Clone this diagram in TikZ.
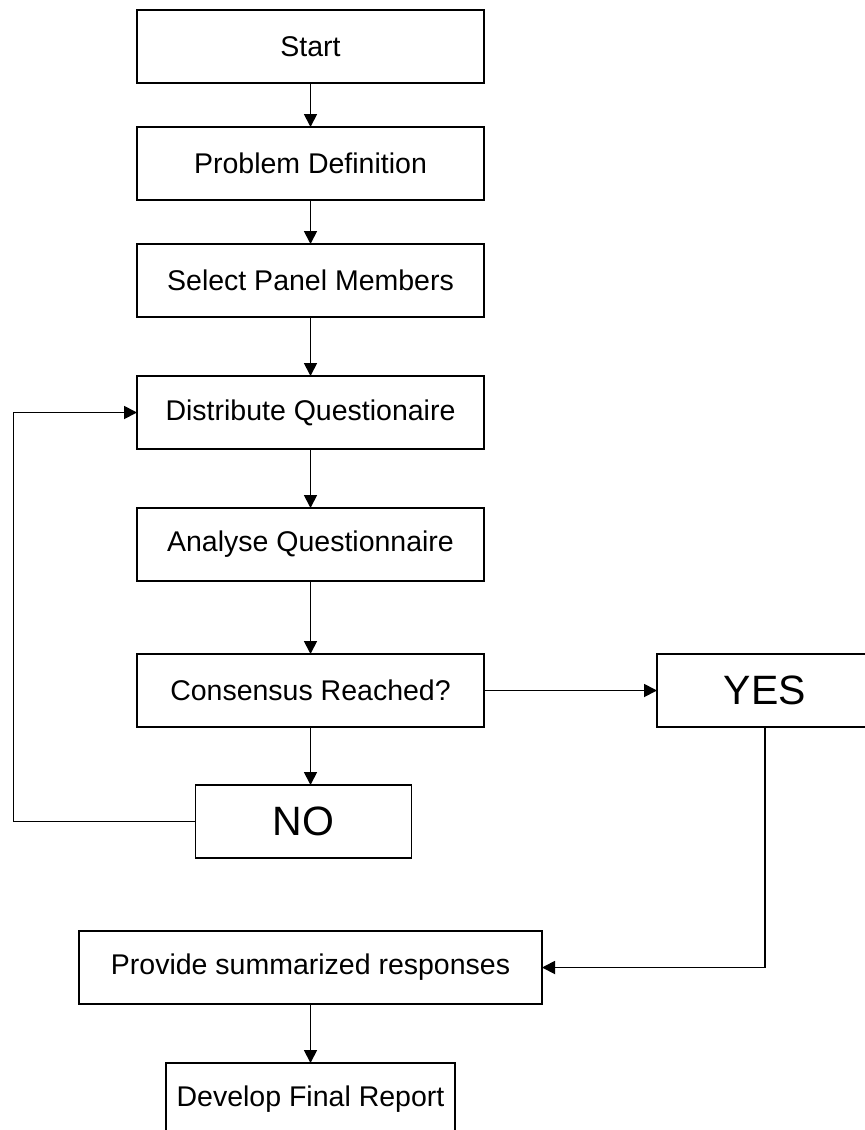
\documentclass[tikz,border=0pt]{standalone}
\usepackage{fontspec}
\setmainfont{Liberation Sans}
\usepackage{tikz}
\usetikzlibrary{positioning,arrows.meta}

\begin{document}
\begin{tikzpicture}[
    node distance=29.5pt,
    every node/.style={font=\fontsize{14.25}{17}\selectfont},
    box/.style={draw, line width=0.9pt, align=center, minimum width=173.5pt, minimum height=36.5pt, inner sep=0pt, outer sep=0pt},
    bigbox/.style={box, minimum width=108pt, font=\fontsize{20.5}{24}\selectfont},
    arr/.style={-{Triangle[length=6.5pt,width=6.5pt]}, line width=0.9pt}
]
\useasboundingbox (0,0) rectangle (432.5pt,-565pt);
\node[box] (start) at (155.25pt,-23.25pt) {Start};
\node[box, below=22pt of start] (probdef) {Problem Definition};
\node[box, below=22pt of probdef] (panel) {Select Panel Members};
\node[box, below=of panel] (distq) {Distribute Questionaire};
\node[box, below=of distq] (analq) {Analyse Questionnaire};
\node[box, below=36.5pt of analq] (consensus) {Consensus Reached?};
\node[bigbox, right=86.5pt of consensus] (yes) {YES};
\node[bigbox, below=29pt of consensus, xshift=-3.5pt] (no) {NO};
\node[box, minimum width=231.5pt, below=102pt of consensus] (summary) {Provide summarized responses};
\node[box, minimum width=144.5pt, below=of summary] (report) {Develop Final Report};
\draw[arr] (start) -- (probdef);
\draw[arr] (probdef) -- (panel);
\draw[arr] (panel) -- (distq);
\draw[arr] (distq) -- (analq);
\draw[arr] (analq) -- (consensus);
\draw[arr] (consensus) -- (yes);
\draw[arr] (consensus.south) -- (consensus.south |- no.north);
\draw[arr] (no.west) -- ++(-91pt,0) |- (distq.west);
\draw[arr] (yes.south) |- (summary.east);
\draw[arr] (summary) -- (report);
\end{tikzpicture}
\end{document}
